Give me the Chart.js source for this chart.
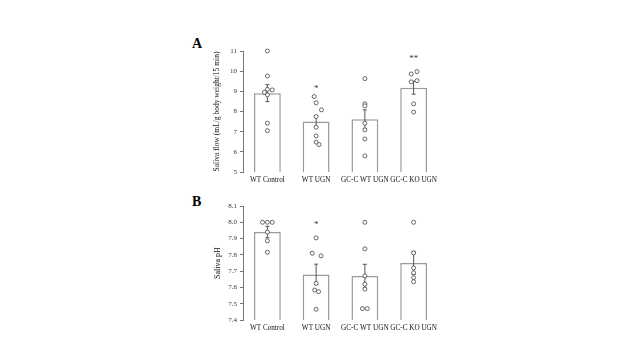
<!DOCTYPE html>
<html>
<head>
<meta charset="utf-8">
<script src="https://cdn.jsdelivr.net/npm/chart.js@4.4.1/dist/chart.umd.min.js"></script>
<style>
	html, body { margin: 0; padding: 0; background: #fff; }
	body { width: 640px; height: 360px; position: relative; overflow: hidden; }
	.panel { position: absolute; left: 180px; width: 270px; }
	.letter { position: absolute; font: bold 14px "Liberation Serif", serif; color: #000; }
</style>
</head>
<body>
<div class="letter" style="left:192px;top:36px;">A</div>
<div class="letter" style="left:192px;top:194px;">B</div>
<div class="panel" style="top:30px;height:160px;"><canvas id="chart-flow"></canvas></div>
<div class="panel" style="top:190px;height:150px;"><canvas id="chart-ph"></canvas></div>
<script>
const CATEGORIES = ["WT Control", "WT UGN", "GC-C WT UGN", "GC-C KO UGN"];

// Panel A - saliva flow
const FLOW_MEAN = [8.91, 7.51, 7.62, 9.18];
const FLOW_SEM = [0.42, 0.27, 0.46, 0.32];
const FLOW_DOTS = [
	[11.0, 9.76, 9.1, 9.07, 8.95, 8.82, 7.42, 7.05],
	[8.74, 8.43, 8.08, 7.75, 7.22, 6.79, 6.48, 6.36],
	[9.63, 8.38, 8.28, 7.42, 7.09, 6.64, 5.8],
	[9.98, 9.86, 9.53, 9.47, 8.38, 7.97],
];
const FLOW_JITTER = [
	[0, 0, 0, 0.1, -0.06, 0, 0, 0],
	[-0.04, 0, 0.11, 0, 0, 0, 0, 0.06],
	[0, 0, 0, 0, 0, 0, 0],
	[0.07, -0.05, 0.07, -0.05, 0, 0],
];
const FLOW_STARS = ["", "*", "", "**"];
const FLOW_STAR_AT = [null, 9.15, null, 10.6];

// Panel B - saliva pH
const PH_MEAN = [7.94, 7.68, 7.67, 7.75];
const PH_SEM = [0.035, 0.063, 0.072, 0.07];
const PH_DOTS = [
	[8.0, 8.0, 8.0, 7.94, 7.886, 7.816],
	[7.904, 7.81, 7.794, 7.625, 7.584, 7.574, 7.466],
	[8.0, 7.837, 7.671, 7.62, 7.59, 7.47, 7.47],
	[8.0, 7.812, 7.72, 7.69, 7.66, 7.635],
];
const PH_JITTER = [
	[-0.1, 0, 0.1, 0, 0, 0],
	[0, -0.08, 0.1, 0, -0.03, 0.05, 0],
	[0, 0, 0, 0, 0, -0.05, 0.05],
	[0, 0, 0, 0, 0, 0],
];
const PH_STARS = ["", "*", "", ""];
const PH_STAR_AT = [null, 7.985, null, null];

const SERIF = '"Liberation Serif", "Times New Roman", serif';

const errorBars = {
	id: "errorBars",
	afterDatasetDraw(chart, args, opts) {
		if (args.index !== 0) return;
		const { ctx, scales } = chart;
		const meta = chart.getDatasetMeta(0);
		ctx.save();
		ctx.strokeStyle = "#555";
		ctx.lineWidth = 1;
		meta.data.forEach((bar, i) => {
			const top = scales.y.getPixelForValue(opts.mean[i] + opts.sem[i]);
			const bottom = scales.y.getPixelForValue(opts.mean[i] - opts.sem[i]);
			ctx.beginPath();
			ctx.moveTo(bar.x, top);
			ctx.lineTo(bar.x, bottom);
			ctx.moveTo(bar.x - 2, top);
			ctx.lineTo(bar.x + 2, top);
			ctx.moveTo(bar.x - 2, bottom);
			ctx.lineTo(bar.x + 2, bottom);
			ctx.stroke();
		});
		ctx.restore();
	},
};

const stars = {
	id: "stars",
	afterDatasetsDraw(chart, args, opts) {
		const { ctx, scales } = chart;
		ctx.save();
		ctx.fillStyle = "#333";
		ctx.font = "9px " + SERIF;
		ctx.textAlign = "center";
		ctx.textBaseline = "middle";
		opts.labels.forEach((txt, i) => {
			if (!txt) return;
			ctx.fillText(txt, scales.x.getPixelForValue(i), scales.y.getPixelForValue(opts.at[i]));
		});
		ctx.restore();
	},
};

const makePanel = (id, p) => {
	const CHART_WRAPPER = document.getElementById(id);

	const dotSets = p.dots.map((vals, i) => ({
		type: "scatter",
		order: 1,
		clip: false,
		data: vals.map((v, j) => ({ x: i + p.jitter[i][j], y: v })),
		pointRadius: 2,
		pointBorderWidth: 0.8,
		pointBorderColor: "#444",
		pointBackgroundColor: "#fff",
	}));

	const CHART_CONFIG = {
		type: "bar",
		data: {
			datasets: [
				{
					data: p.mean.map((v, i) => ({ x: i, y: v })),
					order: 2,
					backgroundColor: "#fff",
					borderColor: "#9a9a9a",
					borderWidth: 1.5,
					barPercentage: 0.55,
					categoryPercentage: 1,
				},
				...dotSets,
			],
		},
		options: {
			animation: false,
			responsive: true,
			maintainAspectRatio: false,
			layout: {
				padding: { top: p.padTop, right: 12, left: 0, bottom: 0 },
			},
			plugins: {
				legend: { display: false },
				tooltip: { enabled: false },
				errorBars: { mean: p.mean, sem: p.sem },
				stars: { labels: p.stars, at: p.starAt },
			},
			scales: {
				x: {
					type: "linear",
					min: -0.5,
					max: 3.5,
					offset: false,
					border: { display: false },
					grid: { display: false, drawTicks: false, offset: false },
					afterBuildTicks: (scale) => {
						scale.ticks = CATEGORIES.map((c, i) => ({ value: i }));
					},
					ticks: {
						padding: 4,
						color: "#111",
						maxRotation: 0,
						autoSkip: false,
						font: { family: SERIF, size: 7.2 },
						callback: (v) => CATEGORIES[v],
					},
					afterFit: (scale) => {
						scale.height = p.xHeight;
					},
				},
				y: {
					min: p.min,
					max: p.max,
					border: { display: true, color: "#777", width: 1 },
					grid: { drawOnChartArea: false, drawTicks: true, tickLength: 3, color: "#777" },
					ticks: {
						stepSize: p.step,
						padding: 3,
						color: "#333",
						font: { family: SERIF, size: 7 },
						callback: p.fmt,
					},
					title: {
						display: true,
						text: p.title,
						color: "#111",
						font: { family: SERIF, size: p.titleSize },
						padding: { top: p.titlePad, bottom: 0 },
					},
					afterFit: (scale) => {
						scale.width = 63;
					},
				},
			},
		},
		plugins: [errorBars, stars],
	};

	if (CHART_WRAPPER) {
		new Chart(CHART_WRAPPER, CHART_CONFIG);
	}
};

makePanel("chart-flow", {
	mean: FLOW_MEAN,
	sem: FLOW_SEM,
	dots: FLOW_DOTS,
	jitter: FLOW_JITTER,
	stars: FLOW_STARS,
	starAt: FLOW_STAR_AT,
	min: 5,
	max: 11,
	step: 1,
	fmt: (v) => v,
	title: "Saliva flow (mL/g body weight/15 min)",
	titleSize: 7.5,
	titlePad: 33,
	padTop: 21,
	xHeight: 18,
});

makePanel("chart-ph", {
	mean: PH_MEAN,
	sem: PH_SEM,
	dots: PH_DOTS,
	jitter: PH_JITTER,
	stars: PH_STARS,
	starAt: PH_STAR_AT,
	min: 7.4,
	max: 8.1,
	step: 0.1,
	fmt: (v) => v.toFixed(1),
	title: "Saliva pH",
	titleSize: 8,
	titlePad: 33,
	padTop: 16,
	xHeight: 20,
});
</script>
</body>
</html>
